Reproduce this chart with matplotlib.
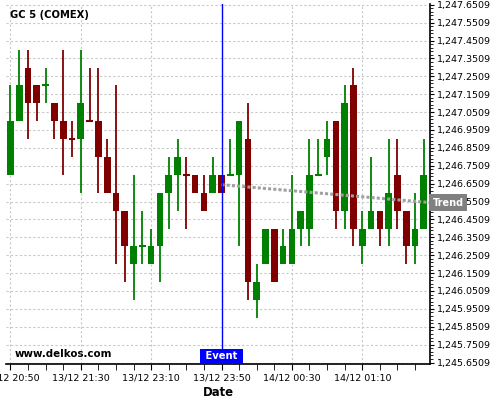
import numpy as np
import matplotlib
matplotlib.use("Agg")
import matplotlib.pyplot as plt
from matplotlib.ticker import FixedLocator, MultipleLocator, FuncFormatter
from matplotlib.transforms import blended_transform_factory

IMAGE_WIDTH = 500
IMAGE_HEIGHT = 400

# 5 minute candles, GC 5 (COMEX)
opens = [1246.70, 1247.00, 1247.30, 1247.20, 1247.20, 1247.10, 1247.00, 1246.90,
         1246.90, 1247.00, 1247.00, 1246.80, 1246.60, 1246.50, 1246.20, 1246.30,
         1246.20, 1246.30, 1246.60, 1246.70, 1246.70, 1246.70, 1246.60, 1246.60,
         1246.70, 1246.70, 1246.70, 1246.90, 1246.00, 1246.20, 1246.40, 1246.20,
         1246.20, 1246.40, 1246.40, 1246.70, 1246.80, 1247.00, 1246.50, 1247.20,
         1246.30, 1246.40, 1246.50, 1246.40, 1246.70, 1246.50, 1246.30, 1246.40]
highs = [1247.20, 1247.40, 1247.40, 1247.20, 1247.30, 1247.10, 1247.40, 1247.00,
         1247.40, 1247.30, 1247.30, 1246.90, 1247.20, 1246.50, 1246.70, 1246.50,
         1246.40, 1246.60, 1246.80, 1246.90, 1246.80, 1246.70, 1246.70, 1246.80,
         1246.70, 1246.90, 1247.00, 1247.10, 1246.20, 1246.40, 1246.40, 1246.40,
         1246.70, 1246.50, 1246.90, 1246.90, 1247.00, 1247.00, 1247.20, 1247.30,
         1246.50, 1246.80, 1246.50, 1246.90, 1246.90, 1246.50, 1246.60, 1246.90]
lows = [1246.70, 1247.00, 1246.90, 1247.00, 1247.10, 1246.90, 1246.70, 1246.80,
        1246.60, 1247.00, 1246.60, 1246.60, 1246.20, 1246.10, 1246.00, 1246.20,
        1246.20, 1246.10, 1246.40, 1246.50, 1246.40, 1246.60, 1246.50, 1246.60,
        1246.60, 1246.70, 1246.30, 1246.00, 1245.90, 1246.20, 1246.10, 1246.20,
        1246.20, 1246.30, 1246.30, 1246.70, 1246.70, 1246.40, 1246.40, 1246.30,
        1246.20, 1246.40, 1246.30, 1246.30, 1246.40, 1246.20, 1246.20, 1246.40]
closes = [1247.00, 1247.20, 1247.10, 1247.10, 1247.20, 1247.00, 1246.90, 1246.90,
          1247.10, 1247.00, 1246.80, 1246.60, 1246.50, 1246.30, 1246.30, 1246.30,
          1246.30, 1246.60, 1246.70, 1246.80, 1246.70, 1246.60, 1246.50, 1246.70,
          1246.60, 1246.70, 1247.00, 1246.10, 1246.10, 1246.40, 1246.10, 1246.30,
          1246.40, 1246.50, 1246.70, 1246.70, 1246.90, 1246.50, 1247.10, 1246.40,
          1246.40, 1246.50, 1246.40, 1246.60, 1246.50, 1246.30, 1246.40, 1246.70]
red_dojis = [7, 9, 20]

tick_pos = [0, 8, 16, 24, 32, 40]
tick_labels = ["13/12 20:50", "13/12 21:30", "13/12 23:10",
               "13/12 23:50", "14/12 00:30", "14/12 01:10"]
y_ticks = [1245.6509 + 0.1 * k for k in range(21)]

event_idx = 24
trend_x = [24, 47.7]
trend_y = [1246.645, 1246.545]

GREEN = "#008000"
RED = "#800000"

o = np.array(opens)
h = np.array(highs)
l = np.array(lows)
c = np.array(closes)
x = np.arange(len(o))
colors = [GREEN if (c[i] > o[i] or (c[i] == o[i] and i not in red_dojis)) else RED
          for i in x]

fig = plt.figure(figsize=(IMAGE_WIDTH / 100, IMAGE_HEIGHT / 100), dpi=100)
ax = fig.add_axes([0.012, 0.09, 0.848, 0.90])

ax.vlines(x, l, h, colors=colors, lw=1.3, zorder=2)
body = np.abs(c - o)
ax.bar(x, body, bottom=np.minimum(o, c), width=0.76, color=colors, zorder=3)
doji = body == 0
ax.hlines(c[doji], x[doji] - 0.38, x[doji] + 0.38,
          colors=[colors[i] for i in x[doji]], lw=1.5, zorder=3)

ax.plot(trend_x, trend_y, color="#a0a0a0", lw=2.2, ls=(0, (1, 0.7)), zorder=4)
ax.axvline(event_idx, color="#0000ff", lw=1, zorder=5)

ax.set_xlim(-0.5, 47.7)
ax.set_ylim(1245.6509 - 0.008, 1247.6509 + 0.004)

ax.xaxis.set_major_locator(FixedLocator(tick_pos))
ax.xaxis.set_minor_locator(MultipleLocator(2))
ax.set_xticklabels(tick_labels, fontsize=6.8)
ax.yaxis.set_major_locator(FixedLocator(y_ticks))
ax.yaxis.set_minor_locator(FixedLocator([1245.6509 + 0.02 * k for k in range(101)]))
ax.yaxis.set_major_formatter(FuncFormatter(lambda v, p: f"{v:,.4f}"))
ax.yaxis.tick_right()
ax.tick_params(axis="y", which="major", length=3, labelsize=6.8, pad=2)
ax.tick_params(axis="y", which="minor", length=2)
ax.tick_params(axis="x", which="both", length=4, pad=3)

ax.grid(True, which="major", color="#c8c8c8", lw=0.8, ls=(0, (2, 2)))
ax.set_axisbelow(True)
for s in ["left", "top"]:
    ax.spines[s].set_visible(False)
ax.spines["bottom"].set_linewidth(1.2)
ax.spines["right"].set_linewidth(1.2)

ax.set_xlabel("Date", fontsize=8.4, fontweight="bold", labelpad=2)

ax.text(0.009, 0.969, "GC 5 (COMEX)", transform=ax.transAxes, fontsize=7.2,
        fontweight="bold", va="center", ha="left")
ax.text(0.021, 0.028, "www.delkos.com", transform=ax.transAxes, fontsize=7.4,
        fontweight="bold", va="center", ha="left")

tr = blended_transform_factory(ax.transData, ax.transAxes)
ax.text(event_idx, 0.021, " Event ", transform=tr, fontsize=7.2, fontweight="bold",
        color="white", ha="center", va="center", zorder=6,
        bbox=dict(boxstyle="square,pad=0.25", fc="#0000ff", ec="none"))
tr2 = blended_transform_factory(ax.transAxes, ax.transData)
ax.text(1.006, trend_y[1], "Trend", transform=tr2, fontsize=7, fontweight="bold",
        color="white", ha="left", va="center", zorder=6, clip_on=False,
        bbox=dict(boxstyle="square,pad=0.35", fc="#808080", ec="none"))

fig.savefig("out.png", dpi=100)
plt.close(fig)
